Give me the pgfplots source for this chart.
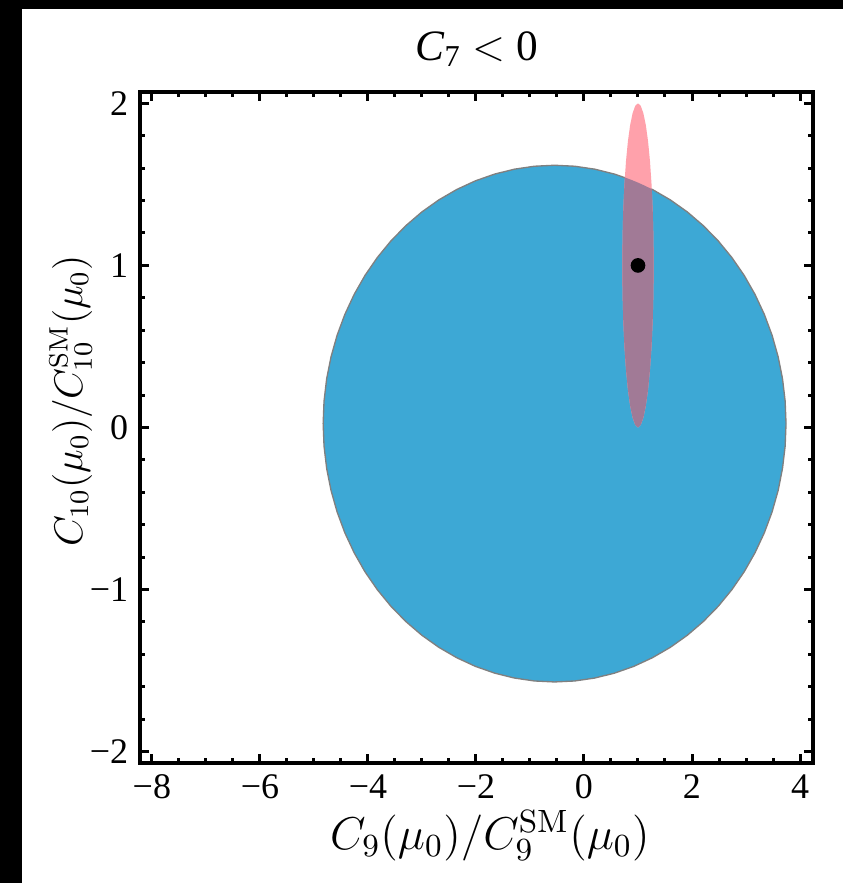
\documentclass[border=0pt]{standalone}
\usepackage{fix-cm}
\usepackage[no-math]{fontspec}
\setmainfont{Liberation Serif}
\usepackage{pgfplots}
\pgfplotsset{compat=1.18}
\definecolor{cblue}{RGB}{61,168,213}
\definecolor{cpink}{RGB}{255,161,171}
\definecolor{cmauve}{RGB}{161,122,150}
\begin{document}
\begin{tikzpicture}
\fill[white] (-50pt,-50pt) rectangle (225pt,235pt);
\fill[black] (-50pt,-50pt) rectangle (-35.4pt,235pt);
\fill[black] (-50pt,226.2pt) rectangle (225pt,235pt);
\begin{axis}[
 scale only axis, width=201.9pt, height=201.3pt,
 xmin=-8.22, xmax=4.24, ymin=-2.07, ymax=2.07,
 xtick={-8,-6,-4,-2,0,2,4}, xticklabels={−8,−6,−4,−2,0,2,4},
 ytick={-2,-1,0,1,2}, yticklabels={−2,−1,0,1,2},
 minor x tick num=3, minor y tick num=4,
 tick align=inside,
 major tick length=2.6pt, minor tick length=1.4pt,
 every tick/.style={black, line width=0.9pt},
 axis line style={line width=1.4pt},
 tick label style={font=\fontsize{10.8}{12}\selectfont},
 xlabel={$C_9(\mu_0)/C_9^{\mathrm{SM}}(\mu_0)$},
 ylabel={$C_{10}(\mu_0)/C_{10}^{\mathrm{SM}}(\mu_0)$},
 xlabel style={font=\fontsize{13.8}{15}\selectfont, yshift=3.4pt, xshift=4pt},
 ylabel style={font=\fontsize{12}{14}\selectfont, yshift=-7.5pt, xshift=8pt},
 title={\textit{C}\textsubscript{7} $<$ 0},
 title style={font=\fontsize{13}{15}\selectfont, yshift=-2pt},
 axis on top,
]
% blue allowed region
\addplot[fill=cblue, draw=gray, line width=0.4pt] coordinates {
(3.741,0.024) (3.7247,0.1630) (3.6759,0.3007) (3.5949,0.4365) (3.4826,0.5691)
(3.3395,0.6976) (3.1668,0.821) (2.9663,0.9383) (2.7383,1.0486) (2.4859,1.1511)
(2.2104,1.245) (1.9139,1.3298) (1.5985,1.4044) (1.2668,1.4686) (0.9215,1.5219)
(0.5650,1.5636) (0.1999,1.5938) (-0.1703,1.6119) (-0.544,1.618) (-0.9177,1.6119)
(-1.2879,1.5938) (-1.6530,1.5636) (-2.0095,1.5219) (-2.3548,1.4686) (-2.6865,1.4044)
(-3.0019,1.3298) (-3.2984,1.245) (-3.5739,1.1511) (-3.8263,1.0486) (-4.0543,0.9383)
(-4.2548,0.821) (-4.4275,0.6976) (-4.5706,0.5691) (-4.6829,0.4365) (-4.7639,0.3007)
(-4.8127,0.1630) (-4.829,0.024) (-4.8127,-0.1150) (-4.7639,-0.2527) (-4.6829,-0.3885)
(-4.5706,-0.5211) (-4.4275,-0.6496) (-4.2548,-0.773) (-4.0543,-0.8903) (-3.8263,-1.0006)
(-3.5739,-1.1031) (-3.2984,-1.197) (-3.0019,-1.2818) (-2.6865,-1.3564) (-2.3548,-1.4206)
(-2.0095,-1.4739) (-1.6530,-1.5156) (-1.2879,-1.5458) (-0.9177,-1.5639) (-0.544,-1.570)
(-0.1703,-1.5639) (0.1999,-1.5458) (0.5650,-1.5156) (0.9215,-1.4739) (1.2668,-1.4206)
(1.5985,-1.3564) (1.9139,-1.2818) (2.2104,-1.197) (2.4859,-1.1031) (2.7383,-1.0006)
(2.9663,-0.8903) (3.1668,-0.773) (3.3395,-0.6496) (3.4826,-0.5211) (3.5949,-0.3885)
(3.6759,-0.2527) (3.7247,-0.1150)
} -- cycle;
% pink region
\addplot[fill=cpink, draw=none] coordinates {
(1.29,1) (1.2856,1.1736) (1.2725,1.342) (1.2511,1.5) (1.2221,1.6428) (1.1864,1.766)
(1.145,1.866) (1.0992,1.9397) (1.0503,1.9848) (1,2) (0.9497,1.9848) (0.9008,1.9397)
(0.855,1.866) (0.8136,1.766) (0.7779,1.6428) (0.7489,1.5) (0.7275,1.342) (0.7144,1.1736)
(0.71,1) (0.7144,0.8264) (0.7275,0.658) (0.7489,0.5) (0.7779,0.3572) (0.8136,0.234)
(0.855,0.134) (0.9008,0.0603) (0.9497,0.0152) (1,0) (1.0503,0.0152) (1.0992,0.0603)
(1.145,0.134) (1.1864,0.234) (1.2221,0.3572) (1.2511,0.5) (1.2725,0.658) (1.2856,0.8264)
} -- cycle;
% overlap
\addplot[fill=cmauve, draw=none] coordinates {
(1.2559,1.4707) (1.2725,1.342) (1.2856,1.1736) (1.29,1) (1.2856,0.8264) (1.2725,0.658)
(1.2511,0.5) (1.2221,0.3572) (1.1864,0.234) (1.145,0.134) (1.0992,0.0603) (1.0503,0.0152)
(1,0) (0.9497,0.0152) (0.9008,0.0603) (0.855,0.134) (0.8136,0.234) (0.7779,0.3572)
(0.7489,0.5) (0.7275,0.658) (0.7144,0.8264) (0.71,1) (0.7144,1.1736) (0.7275,1.342)
(0.7489,1.5) (0.7565,1.543) (0.88,1.5274) (1.0,1.5109) (1.13,1.4913)
} -- cycle;
% Standard Model point
\addplot[only marks, mark=*, mark size=2pt, black] coordinates {(1,1)};
\end{axis}
\pgfresetboundingbox
\path[use as bounding box] (-42pt,-36pt) rectangle (210.6pt,228.9pt);
\end{tikzpicture}
\end{document}
